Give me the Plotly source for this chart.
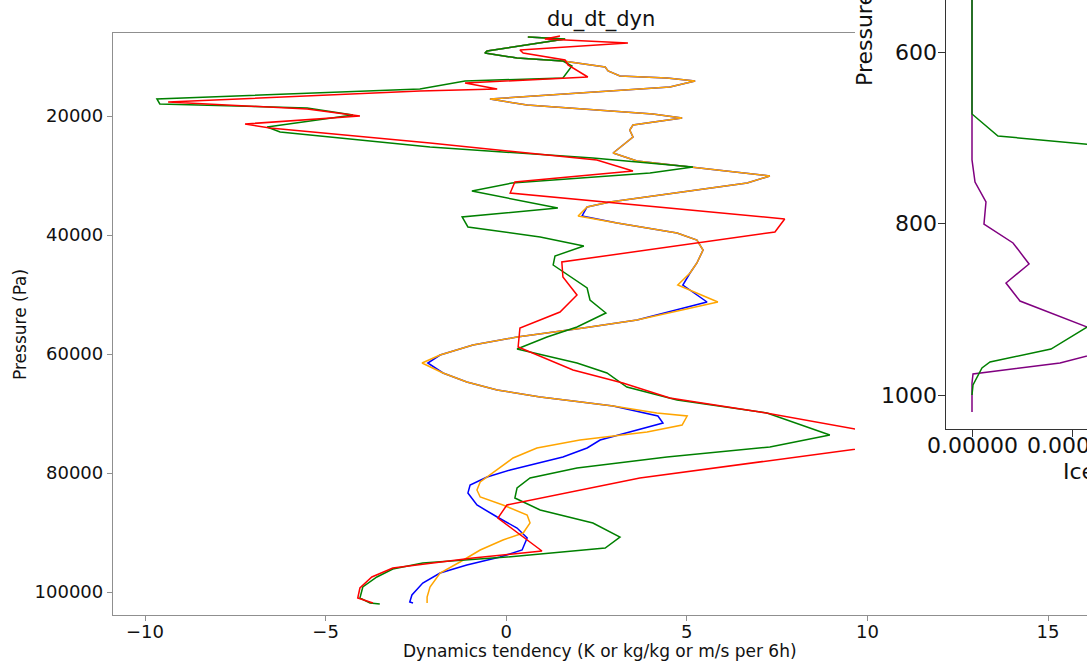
import plotly.graph_objects as go

# ---------------- main panel data: du_dt_dyn profiles ----------------
blue_x = [0.60, 1.63, -0.53, -0.59, 0.30, 1.57, 2.74, 2.82, 3.15, 4.45, 5.23, 4.53, -0.45, 0.58,
          4.06, 4.87, 3.51, 3.42, 3.51, 2.96, 3.62, 5.17, 7.30, 6.67, 2.87, 2.24, 2.10, 3.07,
          4.73, 5.28, 5.45, 5.28, 5.09, 4.89, 5.56, 3.62, 2.13, 0.30, -0.92, -1.83, -2.17,
          -1.75, -1.09, -0.25, 0.94, 1.85, 2.96, 4.20, 4.34, 2.60, 2.24, 1.57, 0.11, -0.53,
          -1.00, -1.06, -0.81, -0.25, 0.30, 0.58, 0.44, -0.17, -1.09, -1.83, -2.31, -2.61,
          -2.67, -2.58]
blue_p = [6722, 7059, 9075, 9412, 10252, 10756, 11765, 12437, 13277, 13613, 14118, 15126, 17143,
          18151, 19664, 20336, 21513, 22353, 23529, 26218, 27563, 28572, 30084, 31261, 34454,
          35294, 36807, 37983, 39664, 40841, 42521, 44706, 46387, 48403, 51261, 54286, 55631,
          57143, 58488, 60168, 61513, 63193, 64706, 66051, 67227, 67900, 68740, 70421, 71597,
          74455, 75799, 77312, 79497, 80673, 82017, 83362, 85378, 87395, 89244, 90925, 92942,
          94118, 95462, 96806, 98487, 100504, 101680, 101848]

orange_x = [0.60, 1.63, -0.53, -0.59, 0.30, 1.57, 2.74, 2.82, 3.15, 4.45, 5.23, 4.53, -0.45, 0.58,
            4.06, 4.87, 3.51, 3.42, 3.51, 2.96, 3.62, 5.17, 7.30, 6.67, 2.87, 2.24, 1.99, 3.07,
            4.73, 5.28, 5.45, 5.28, 5.09, 4.75, 5.86, 3.62, 2.13, 0.30, -0.92, -1.83, -2.33,
            -1.75, -1.09, -0.25, 0.94, 1.85, 2.96, 4.17, 5.01, 4.87, 3.90, 2.04, 0.85, 0.19,
            -0.25, -0.72, -0.81, -0.72, -0.09, 0.58, 0.66, 0.47, -0.09, -0.72, -1.28, -1.83,
            -2.11, -2.19, -2.19]
orange_p = [6722, 7059, 9075, 9412, 10252, 10756, 11765, 12437, 13277, 13613, 14118, 15126, 17143,
            18151, 19664, 20336, 21513, 22353, 23529, 26218, 27563, 28572, 30084, 31261, 34454,
            35294, 36807, 37983, 39664, 40841, 42521, 44706, 46387, 48403, 51261, 54286, 55631,
            57143, 58488, 60168, 61513, 63193, 64706, 66051, 67227, 67900, 68740, 69917, 70421,
            71933, 73110, 74455, 75799, 77480, 79497, 81514, 82858, 84034, 85378, 87059, 88403,
            90084, 91261, 92942, 94958, 96806, 99159, 100840, 101848]

green_x = [0.60, 1.63, -0.53, -0.59, 0.30, 1.57, 1.82, 1.57, -1.14, -2.39, -9.67, -9.59, -5.51,
           -4.24, -6.62, -6.26, -2.11, 2.40, 5.17, 3.98, 0.16, -0.95, 1.43, -1.22, -1.06, 0.94,
           2.15, 1.35, 1.30, 2.24, 2.32, 2.76, 1.96, 1.13, 0.30, 1.96, 2.79, 3.34, 4.73, 7.22,
           8.96, 7.30, 4.45, 1.96, 0.66, 0.30, 0.24, 0.94, 2.40, 3.15, 2.74, 0.02, -2.31, -3.14,
           -3.58, -3.97, -4.05, -3.77, -3.50]
green_p = [6722, 7059, 9075, 9412, 10252, 10756, 11597, 13613, 14118, 15462, 17143, 17983, 18655,
           19832, 21849, 22689, 25210, 27059, 28572, 29580, 31261, 32605, 35462, 36975, 38656,
           40336, 41849, 43530, 45042, 48908, 50925, 53110, 55463, 57143, 59160, 61513, 63193,
           65546, 67731, 69917, 73614, 75631, 77312, 79161, 80841, 82521, 84202, 86218, 88403,
           90757, 92606, 94118, 95126, 96134, 97478, 99159, 101008, 101848, 102016]

red_x = [1.49, 1.07, 3.37, 0.38, 0.47, 1.63, 1.71, 2.26, -1.14, -0.25, -2.39, -9.36, -5.51, -4.05,
         -7.23, -6.54, -2.11, 2.51, 3.51, 0.24, 0.11, 7.71, 7.44, 1.54, 1.57, 1.96, 1.49, 0.38,
         0.33, 1.85, 3.23, 4.53, 7.03, 11.45, 3.70, 0.02, -0.23, 0.99, -0.92, -3.14, -3.72,
         -4.05, -4.11, -3.69]
red_p = [6554, 7059, 7731, 8908, 9412, 10588, 11428, 13445, 14454, 15462, 15798, 17647, 18824,
         20000, 21345, 22017, 24538, 27395, 29244, 31093, 32941, 37311, 39496, 44538, 47059,
         50085, 52942, 55631, 58824, 62689, 64874, 67395, 69749, 74540, 80841, 85378, 87563,
         93110, 94286, 95966, 97478, 99327, 101008, 101848]

# ---------------- overlapping panel data: ice profiles ----------------
purple_ice = [0, 0, 3e-7, 1.39e-6, 1.19e-6, 4.08e-6, 5.67e-6, 3.38e-6, 4.77e-6, 1.59e-5,
              8.75e-6, 1e-7, 0, 0]
purple_plev = [450, 725.9, 751.6, 774.9, 800.6, 822.7, 847.2, 869.4, 890.4, 940.9, 962.7,
               975.5, 986.0, 1019.8]
green_ice = [0, 0, 2.58e-6, 2.0e-5, 2.6e-5, 2.2e-5, 1.42e-5, 7.85e-6, 1.79e-6, 9.9e-7, 1e-7, 0]
green_plev = [450, 672.3, 698.0, 716.6, 800, 860, 900.9, 946.4, 961.5, 968.5, 988.3, 1000]

main_xticks = [-10, -5, 0, 5, 10, 15]
main_xticktext = ["\u221210", "\u22125", "0", "5", "10", "15"]
main_yticks = [20000, 40000, 60000, 80000, 100000]
main_yticktext = ["20000", "40000", "60000", "80000", "100000"]
ice_xticks = [0, 1e-5]
ice_xticktext = ["0.00000", "0.00001"]
ice_yticks = [600, 800, 1000]
ice_yticktext = ["600", "800", "1000"]

FONT = "DejaVu Sans"
GREY = "#8f8f8f"
DARK = "#333333"
TXT = "#111111"
W, H = 1087, 663
ML, MB, MT, MR = 113, 48, 0, 0
PW, PH = W - ML - MR, H - MT - MB


def px(xp):
    return (xp - ML) / PW


def py(yp):
    return (H - MB - yp) / PH


fig = go.Figure()
for xs, ps, col in [(blue_x, blue_p, "blue"), (orange_x, orange_p, "orange"),
                    (green_x, green_p, "green"), (red_x, red_p, "red")]:
    fig.add_trace(go.Scatter(x=xs, y=ps, mode="lines", line=dict(color=col, width=1.5),
                             xaxis="x", yaxis="y", showlegend=False, hoverinfo="skip"))

for xs, ps, col in [(purple_ice, purple_plev, "purple"), (green_ice, green_plev, "green")]:
    fig.add_trace(go.Scatter(x=xs, y=ps, mode="lines", line=dict(color=col, width=1.5),
                             xaxis="x2", yaxis="y2", showlegend=False, hoverinfo="skip"))

# empty trace so that the full-width tick axis (x3) is drawn
fig.add_trace(go.Scatter(x=[], y=[], mode="lines", xaxis="x3", yaxis="y",
                         showlegend=False, hoverinfo="skip"))

# main axis scale: 36.12 px per unit, 0 at x=506.2 ; pressure 119 px per 20000 Pa
x_left = -10.886
x_clip = x_left + (855 - ML) / 36.12
x_full = x_left + PW / 36.12
p_bottom = 20000 + (615 - 116) * 20000 / 119
p_top = p_bottom - (615 - 33) * 20000 / 119

fig.update_layout(
    width=W, height=H, autosize=False,
    margin=dict(l=ML, r=MR, t=MT, b=MB, pad=0),
    paper_bgcolor="white", plot_bgcolor="rgba(0,0,0,0)",
    font=dict(family=FONT, color=TXT),
    xaxis=dict(domain=[0, px(855)], range=[x_left, x_clip], anchor="y",
               showline=True, mirror=True, linecolor=GREY, linewidth=1.3,
               showgrid=False, zeroline=False, showticklabels=False, ticks=""),
    xaxis3=dict(domain=[0, 1], range=[x_left, x_full], anchor="y",
                tickvals=main_xticks, ticktext=main_xticktext, ticks="outside",
                ticklen=5, tickwidth=1.2, tickcolor=GREY, showline=True, linecolor=GREY,
                linewidth=1.3, showgrid=False, zeroline=False, ticklabelstandoff=-5,
                tickfont=dict(size=18, family=FONT, color=TXT)),
    yaxis=dict(domain=[0, py(33)], range=[p_bottom, p_top], anchor="x",
               tickvals=main_yticks, ticktext=main_yticktext, ticks="outside", ticklen=5,
               tickwidth=1.2, tickcolor=GREY, showline=True, linecolor=GREY, linewidth=1.3,
               showgrid=False, zeroline=False,
               tickfont=dict(size=18, family=FONT, color=TXT)),
    xaxis2=dict(domain=[px(946), 1], range=[-26 / 100.6 * 1e-5, (W - 972) / 100.6 * 1e-5],
                anchor="y2", tickvals=ice_xticks, ticks="outside",
                ticklen=7, tickwidth=1.2, tickcolor=DARK, showline=True, linecolor=DARK,
                linewidth=1.3, showgrid=False, zeroline=False, showticklabels=False),
    yaxis2=dict(domain=[py(429), 1],
                range=[1000 + (429 - 395) / 0.8575, 600 - 52 / 0.8575],
                anchor="x2", tickvals=ice_yticks, ticks="outside",
                ticklen=7, tickwidth=1.2, tickcolor=DARK, showline=True, linecolor=DARK,
                linewidth=1.3, showgrid=False, zeroline=False, showticklabels=False),
)

annotations = [
    dict(text="du_dt_dyn", x=px(601), y=py(20), xanchor="center", yanchor="middle",
         font=dict(size=21, family=FONT, color=TXT)),
    dict(text="Dynamics tendency (K or kg/kg or m/s per 6h)", x=px(600), y=py(651),
         xanchor="center", yanchor="middle", font=dict(size=17, family=FONT, color=TXT)),
    dict(text="Pressure (Pa)", x=px(20), y=py(325), xanchor="center", yanchor="middle",
         textangle=-90, font=dict(size=17, family=FONT, color=TXT)),
    dict(text="Pressure (hPa)", x=px(865), y=py(88), xanchor="center", yanchor="bottom",
         textangle=-90, font=dict(size=22, family=FONT, color=TXT)),
    dict(text="Ice water content (kg/kg)", x=px(1061), y=py(471), xanchor="left",
         yanchor="middle", font=dict(size=22, family=FONT, color=TXT)),
]
for a in annotations:
    a.update(xref="paper", yref="paper")

# tick labels of the overlapping ice panel
for v, t in zip(ice_xticks, ice_xticktext):
    annotations.append(dict(text=t, x=v, xref="x2", y=py(445), yref="paper",
                            xanchor="center", yanchor="middle",
                            font=dict(size=22, family=FONT, color=TXT)))
for v, t in zip(ice_yticks, ice_yticktext):
    annotations.append(dict(text=t, x=px(939), xref="paper", y=v, yref="y2",
                            xanchor="right", yanchor="middle",
                            font=dict(size=22, family=FONT, color=TXT)))
for a in annotations:
    a.update(showarrow=False)
fig.update_layout(annotations=annotations)

fig.write_html("out.html", config={"displayModeBar": False},
               post_script="document.body.style.margin='0';")
